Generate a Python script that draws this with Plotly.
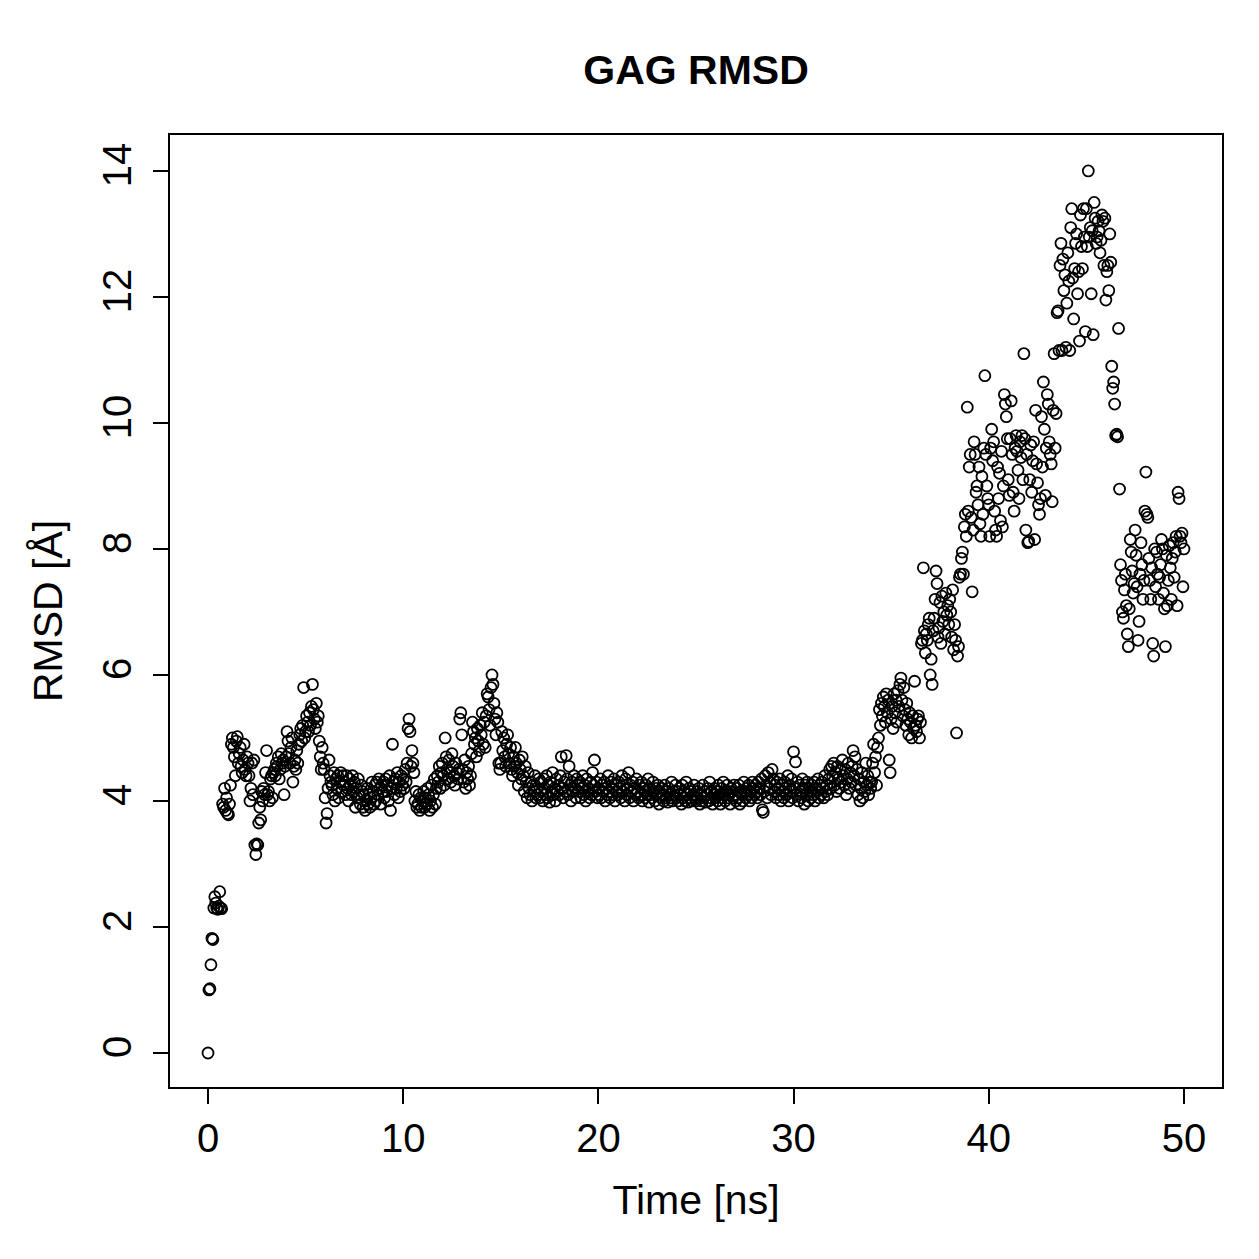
import numpy as np
import plotly.graph_objects as go

# RMSD values (Å), sampled every 0.05 ns, one row per ns
rmsd = [
    # 0
    0.00, 1.00, 1.02, 1.40, 1.82, 1.80, 2.30, 2.48, 2.38, 2.30, 2.28, 2.33, 2.56, 2.30, 2.29, 3.95, 3.90, 4.20, 3.85, 4.05,
    # 1
    3.80, 3.78, 3.95, 4.25, 4.90, 5.00, 4.85, 4.70, 4.40, 4.95, 5.02, 4.60, 4.75, 4.85, 4.55, 4.45, 4.65, 4.90, 4.50, 4.40,
    # 2
    4.70, 4.60, 4.40, 4.00, 4.20, 4.60, 4.10, 4.65, 3.30, 3.15, 3.32, 3.30, 3.65, 3.90, 3.70, 4.15, 4.00, 4.20, 4.10, 4.45,
    # 3
    4.80, 4.10, 4.15, 4.00, 4.35, 4.40, 4.05, 4.45, 4.50, 4.40, 4.60, 4.55, 4.70, 4.35, 4.50, 4.75, 4.60, 4.65, 4.10, 4.55,
    # 4
    4.70, 5.10, 4.95, 4.75, 4.60, 4.85, 5.00, 4.30, 4.55, 4.65, 4.50, 4.80, 4.60, 4.90, 5.05, 5.15, 4.95, 5.20, 5.80, 5.00,
    # 5
    5.10, 5.35, 5.25, 5.10, 5.40, 5.20, 5.50, 5.85, 5.45, 5.30, 5.15, 5.55, 5.25, 5.35, 4.95, 4.70, 4.50, 4.85, 4.60, 4.50,
    # 6
    4.05, 3.65, 3.80, 4.20, 4.65, 4.40, 4.30, 4.25, 4.10, 4.45, 4.00, 4.35, 4.20, 4.40, 4.05, 4.30, 4.45, 4.15, 4.40, 4.25,
    # 7
    4.30, 4.10, 4.40, 4.20, 4.00, 4.35, 4.25, 4.10, 4.40, 4.15, 4.30, 3.90, 4.20, 4.05, 4.35, 4.10, 3.95, 4.25, 4.15, 3.90,
    # 8
    4.10, 3.85, 4.00, 4.20, 3.95, 4.10, 3.90, 4.05, 4.30, 4.15, 3.95, 4.25, 4.00, 4.30, 4.10, 4.35, 4.20, 3.95, 4.25, 4.15,
    # 9
    4.30, 4.05, 4.35, 4.15, 4.25, 4.00, 4.40, 3.85, 4.20, 4.90, 4.30, 4.10, 4.35, 4.20, 4.45, 4.05, 4.30, 4.15, 4.40, 4.25,
    # 10
    4.35, 4.20, 4.50, 4.30, 4.60, 5.15, 5.30, 5.10, 4.55, 4.80, 4.60, 4.45, 4.00, 4.15, 3.90, 3.95, 4.10, 3.85, 4.05, 3.90,
    # 11
    4.00, 4.15, 3.90, 4.05, 3.95, 4.20, 4.10, 3.85, 4.00, 4.25, 3.90, 4.10, 4.35, 3.95, 4.20, 4.40, 4.30, 4.55, 4.20, 4.45,
    # 12
    4.60, 4.40, 4.25, 5.00, 4.70, 4.50, 4.35, 4.65, 4.45, 4.30, 4.75, 4.55, 4.40, 4.25, 4.60, 4.45, 4.35, 4.50, 5.30, 5.40,
    # 13
    5.05, 4.50, 4.30, 4.65, 4.20, 4.45, 4.35, 4.55, 4.25, 4.40, 4.75, 5.25, 5.10, 4.90, 5.00, 4.70, 5.15, 4.95, 4.80, 5.20,
    # 14
    5.05, 5.40, 4.90, 5.25, 4.85, 5.35, 5.70, 5.65, 5.45, 5.20, 5.80, 6.00, 5.85, 5.55, 5.30, 5.05, 5.40, 5.25, 4.60, 4.50,
    # 15
    4.60, 5.10, 4.80, 5.00, 4.70, 4.55, 4.90, 5.05, 4.75, 4.60, 4.85, 4.50, 4.40, 4.70, 4.55, 4.85, 4.60, 4.45, 4.25, 4.65,
    # 16
    4.50, 4.35, 4.70, 4.40, 4.15, 4.55, 4.30, 4.05, 4.45, 4.20, 4.10, 4.30, 4.00, 4.25, 4.15, 4.40, 4.05, 4.20, 4.10, 4.35,
    # 17
    4.05, 4.30, 4.15, 4.00, 4.35, 4.20, 4.10, 4.40, 4.05, 4.25, 3.98, 4.30, 4.15, 4.45, 4.10, 4.20, 4.00, 4.35, 4.15, 4.25,
    # 18
    4.10, 4.40, 4.70, 4.20, 4.05, 4.30, 4.15, 4.72, 4.35, 4.10, 4.55, 4.25, 4.00, 4.30, 4.15, 4.40, 4.20, 4.05, 4.35, 4.25,
    # 19
    4.15, 4.30, 4.05, 4.20, 4.40, 4.10, 4.25, 4.00, 4.35, 4.15, 4.20, 4.05, 4.30, 4.10, 4.45, 4.25, 4.65, 4.15, 4.30, 4.05,
    # 20
    4.20, 4.10, 4.35, 4.05, 4.25, 4.15, 4.30, 4.00, 4.20, 4.10, 4.40, 4.15, 4.05, 4.30, 4.20, 4.10, 4.35, 4.00, 4.25, 4.15,
    # 21
    4.10, 4.30, 4.20, 4.05, 4.40, 4.15, 4.25, 4.00, 4.35, 4.10, 4.20, 4.45, 4.05, 4.25, 4.15, 4.30, 4.00, 4.20, 4.10, 4.35,
    # 22
    4.15, 4.05, 4.25, 4.10, 4.30, 4.00, 4.20, 4.15, 4.05, 4.25, 4.10, 4.35, 3.98, 4.20, 4.10, 4.05, 4.30, 4.15, 4.00, 4.20,
    # 23
    4.10, 4.25, 3.95, 4.15, 4.05, 4.20, 4.10, 4.00, 4.25, 4.05, 4.15, 3.98, 4.20, 4.10, 4.05, 4.30, 4.00, 4.15, 4.10, 4.25,
    # 24
    4.05, 4.15, 4.00, 4.20, 4.10, 3.95, 4.25, 4.05, 4.15, 4.00, 4.30, 4.10, 3.98, 4.20, 4.05, 4.15, 4.00, 4.10, 4.25, 4.05,
    # 25
    4.00, 4.15, 4.05, 4.20, 3.95, 4.10, 4.00, 4.25, 4.05, 4.15, 3.98, 4.10, 4.20, 4.00, 4.30, 4.05, 4.15, 3.95, 4.10, 4.20,
    # 26
    4.05, 4.15, 4.00, 4.25, 4.10, 3.95, 4.20, 4.05, 4.30, 4.10, 4.00, 4.15, 4.25, 4.05, 4.10, 3.95, 4.20, 4.15, 4.05, 4.25,
    # 27
    4.10, 4.00, 4.20, 4.05, 4.25, 3.95, 4.15, 4.10, 4.00, 4.30, 4.15, 4.05, 4.20, 4.10, 4.25, 4.00, 4.15, 4.05, 4.30, 4.20,
    # 28
    4.10, 4.25, 4.15, 4.05, 4.30, 4.20, 4.10, 4.35, 3.86, 3.82, 4.15, 4.40, 4.25, 4.05, 4.45, 4.20, 4.30, 4.10, 4.50, 4.35,
    # 29
    4.15, 4.25, 4.05, 4.30, 4.20, 4.10, 4.35, 4.00, 4.25, 4.15, 4.05, 4.30, 4.20, 4.10, 4.40, 4.00, 4.25, 4.15, 4.35, 4.05,
    # 30
    4.78, 4.20, 4.62, 4.10, 4.30, 4.00, 4.25, 4.15, 4.05, 4.35, 4.20, 3.95, 4.25, 4.10, 4.30, 4.00, 4.20, 4.15, 4.05, 4.25,
    # 31
    4.10, 4.30, 4.00, 4.20, 4.15, 4.35, 4.05, 4.25, 4.10, 4.30, 4.20, 4.05, 4.40, 4.15, 4.25, 4.10, 4.35, 4.50, 4.20, 4.55,
    # 32
    4.40, 4.60, 4.25, 4.45, 4.15, 4.55, 4.35, 4.20, 4.50, 4.30, 4.65, 4.40, 4.25, 4.50, 4.10, 4.35, 4.60, 4.20, 4.45, 4.30,
    # 33
    4.55, 4.80, 4.40, 4.70, 4.25, 4.50, 4.10, 4.35, 4.00, 4.20, 4.45, 4.05, 4.30, 4.15, 4.60, 4.25, 4.40, 4.10, 4.30, 4.20,
    # 34
    4.30, 4.60, 4.90, 4.45, 4.70, 4.25, 4.85, 5.00, 5.45, 5.20, 5.55, 5.35, 5.65, 5.50, 5.25, 5.70, 5.40, 5.60, 4.65, 4.45,
    # 35
    5.30, 5.50, 5.15, 5.70, 5.40, 5.60, 5.25, 5.75, 5.50, 5.85, 5.95, 5.60, 5.35, 5.80, 5.45, 5.20, 5.55, 5.30, 5.05, 5.40,
    # 36
    5.25, 5.00, 5.35, 5.15, 5.90, 5.20, 5.10, 5.30, 5.35, 5.00, 5.25, 6.50, 6.55, 7.70, 6.70, 6.35, 6.65, 6.55, 6.80, 6.90,
    # 37
    6.00, 6.25, 5.85, 6.70, 6.90, 7.20, 7.65, 7.45, 6.60, 6.75, 7.15, 6.50, 7.25, 6.85, 7.00, 6.65, 7.30, 6.95, 7.10, 6.80,
    # 38
    7.20, 7.00, 6.60, 7.35, 6.40, 6.80, 6.55, 5.08, 6.30, 6.45, 7.55, 7.60, 7.85, 7.95, 7.60, 8.35, 8.55, 8.20, 10.25, 8.60,
    # 39
    9.30, 9.50, 8.50, 7.32, 8.30, 9.70, 9.50, 8.90, 9.00, 8.70, 9.30, 8.40, 8.20, 9.15, 8.55, 9.60, 10.75, 9.50, 9.00, 8.80,
    # 40
    8.70, 8.20, 9.60, 9.90, 9.40, 9.70, 8.60, 8.30, 8.20, 9.30, 8.80, 9.20, 8.45, 9.55, 8.35, 9.00, 10.45, 10.30, 10.10, 9.75,
    # 41
    9.10, 8.85, 9.75, 10.35, 9.50, 8.90, 8.60, 9.60, 9.80, 9.55, 9.25, 8.80, 9.70, 9.45, 9.80, 9.10, 11.10, 9.75, 8.30, 9.50,
    # 42
    8.10, 8.12, 9.10, 9.65, 8.90, 9.40, 9.70, 8.15, 10.20, 9.35, 9.05, 8.70, 8.55, 8.80, 10.10, 9.30, 10.65, 9.90, 8.85, 9.60,
    # 43
    10.45, 10.30, 9.70, 9.50, 9.35, 8.75, 10.20, 11.10, 9.60, 10.15, 11.75, 11.78, 11.15, 12.50, 12.85, 11.15, 12.60, 12.10, 12.35, 11.20,
    # 44
    11.90, 12.70, 12.25, 11.15, 13.10, 13.40, 12.30, 11.65, 12.45, 12.85, 13.00, 12.05, 12.40, 11.30, 13.30, 12.80, 12.45, 13.40, 12.95, 11.45,
    # 45
    13.40, 12.80, 14.00, 12.95, 13.10, 12.05, 13.05, 11.40, 13.50, 13.25, 12.85, 12.95, 13.20, 13.05, 12.70, 12.90, 13.30, 13.20, 12.50, 13.25,
    # 46
    11.95, 12.40, 12.50, 12.10, 13.00, 12.55, 10.90, 10.55, 10.65, 10.30, 9.80, 9.82, 9.78, 11.50, 8.95, 7.75, 7.50, 7.00, 6.90, 7.35,
    # 47
    7.60, 7.10, 6.65, 6.45, 7.05, 8.15, 7.95, 7.65, 7.30, 7.45, 8.30, 7.90, 7.40, 6.55, 6.85, 7.60, 8.10, 7.75, 7.20, 7.50,
    # 48
    8.60, 9.22, 8.55, 8.50, 7.85, 7.50, 7.20, 7.70, 6.50, 6.30, 8.00, 7.40, 7.95, 7.60, 7.20, 7.55, 7.75, 8.15, 8.00, 7.30,
    # 49
    7.05, 6.45, 7.90, 7.10, 7.50, 8.05, 7.70, 7.20, 7.85, 8.10, 7.55, 7.95, 8.20, 7.10, 8.90, 8.80, 8.20, 8.10, 8.25, 7.40,
    # 50
    8.00,
]

time_step_ns = 0.05
time_ns = [round(i * time_step_ns, 2) for i in range(len(rmsd))]

x_ticks = [0, 10, 20, 30, 40, 50]
y_ticks = [0, 2, 4, 6, 8, 10, 12, 14]

FONT = "Liberation Sans, Arial, Helvetica, sans-serif"

fig = go.Figure(
    go.Scatter(
        x=time_ns,
        y=rmsd,
        mode="markers",
        marker=dict(
            symbol="circle-open",
            size=11,
            color="black",
            line=dict(width=1.8, color="black"),
        ),
        showlegend=False,
        hoverinfo="x+y",
    )
)

axis_common = dict(
    showline=True,
    linecolor="black",
    linewidth=2.2,
    mirror=True,
    showgrid=False,
    zeroline=False,
    ticks="outside",
    ticklen=15,
    tickwidth=2.2,
    tickcolor="black",
    tickfont=dict(family=FONT, size=40, color="black"),
)

fig.update_layout(
    width=1259,
    height=1259,
    margin=dict(l=170, r=37, t=135, b=172),
    paper_bgcolor="white",
    plot_bgcolor="white",
    title=dict(
        text="<b>GAG RMSD</b>",
        font=dict(family=FONT, size=41, color="black"),
        x=0.5,
        xref="paper",
        xanchor="center",
        y=1 - 70 / 1259,
        yref="container",
        yanchor="middle",
    ),
    xaxis=dict(
        **axis_common,
        range=[-1.947, 51.95],
        tickvals=x_ticks,
        ticktext=[str(v) for v in x_ticks],
        ticklabelstandoff=0,
        title=dict(
            text="Time [ns]",
            font=dict(family=FONT, size=41, color="black"),
            standoff=26,
        ),
    ),
    yaxis=dict(
        **axis_common,
        range=[-0.54, 14.57],
        tickvals=y_ticks,
        ticktext=[str(v) for v in y_ticks],
        tickangle=-90,
        ticklabelstandoff=6,
        title=dict(
            text="RMSD [Å]",
            font=dict(family=FONT, size=41, color="black"),
            standoff=20,
        ),
    ),
)

fig.write_html("out.html")
